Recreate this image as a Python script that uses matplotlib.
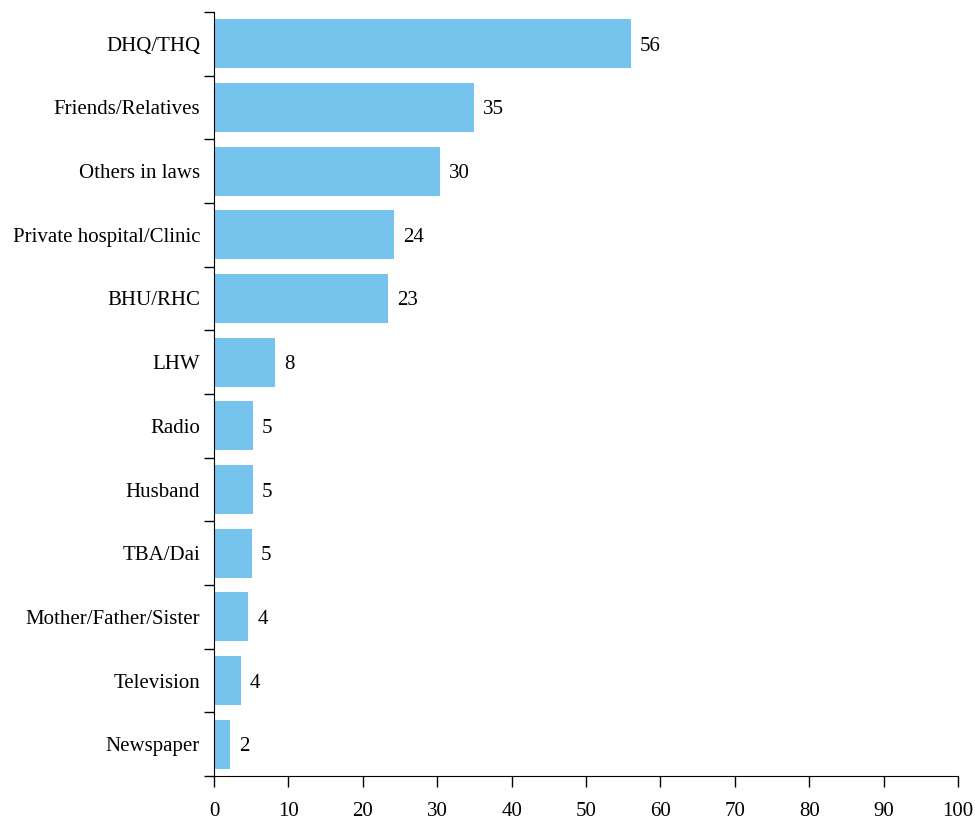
import matplotlib.pyplot as plt
import numpy as np

categories = ["DHQ/THQ", "Friends/Relatives", "Others in laws", "Private hospital/Clinic",
              "BHU/RHC", "LHW", "Radio", "Husband", "TBA/Dai", "Mother/Father/Sister",
              "Television", "Newspaper"]
values = [56.0, 34.9, 30.4, 24.2, 23.4, 8.2, 5.2, 5.2, 5.1, 4.6, 3.6, 2.2]
value_labels = ["56", "35", "30", "24", "23", "8", "5", "5", "5", "4", "4", "2"]

plt.rcParams['font.family'] = ['Liberation Serif', 'DejaVu Serif']

fig = plt.figure(figsize=(9.75, 8.21), dpi=100)
ax = fig.add_axes([0.2195, 0.0548, 0.7631, 0.9306])

y = np.arange(len(categories))
ax.barh(y, values, height=0.77, color='#76C4EE')
for yi, v, lab in zip(y, values, value_labels):
    ax.text(v + 1.2, yi, lab, va='center_baseline', ha='left', fontsize=15)

ax.set_xlim(0, 100)
ax.set_ylim(len(categories) - 0.5, -0.5)
ax.set_xticks(range(0, 101, 10))
ax.set_yticks(y)
ax.set_yticklabels(categories)
ax.set_yticks(np.arange(-0.5, len(categories), 1), minor=True)
ax.tick_params(axis='y', which='major', length=0, pad=10, labelsize=15)
ax.tick_params(axis='y', which='minor', length=7, width=1)
ax.tick_params(axis='x', length=8, width=1, pad=11, labelsize=15)

for s in ['top', 'right']:
    ax.spines[s].set_visible(False)

plt.savefig('out.png', dpi=100)
